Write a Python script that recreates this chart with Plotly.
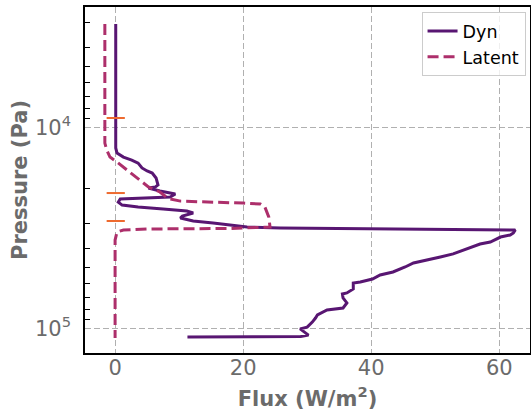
import plotly.graph_objects as go

# Dyn flux profile (W/m^2) vs pressure (Pa)
dyn_p = [3055, 12640, 13400, 14030, 14520, 15040, 15900, 16460, 16840, 17830,
         19320, 19760, 19990, 20700, 21430, 22190, 22700, 23500, 24330, 24890,
         25440, 26020, 26620, 27560, 28200, 29190, 29860, 30560, 31270, 31620,
         31990, 32360, 33500, 34290, 35080, 37150, 38000, 40190, 42560, 44060,
         46130, 47210, 49430, 52340, 54170, 56720, 58720, 59400, 63560, 66540,
         67310, 70470, 74620, 79060, 80890, 85650, 88710, 92910, 98410, 100500,
         107900, 109600, 110000, 110300]
dyn_flux = [0.1, 0.1, 0.3, 1.3, 2.6, 3.6, 4.2, 5.0, 5.8, 6.4,
            6.7, 6.3, 5.2, 7.0, 9.4, 8.6, 0.8, 0.5, 1.1, 3.6,
            7.5, 11.2, 12.2, 10.5, 10.2, 12.2, 15.3, 18.4, 20.6, 25.8,
            45.0, 62.5, 62.2, 61.7, 60.2, 58.6, 57.0, 55.0, 52.8, 50.8,
            48.1, 46.6, 45.3, 43.4, 41.4, 40.2, 38.3, 37.2, 37.2, 36.2,
            35.5, 35.6, 36.2, 35.6, 33.1, 31.6, 31.3, 30.8, 30.0, 28.9,
            30.2, 29.0, 21.6, 11.3]

# Latent flux profile
lat_p = [3055, 11950, 12950, 14030, 14850, 15730, 17230, 18670, 19760, 20940,
         22190, 22700, 23240, 23780, 24040, 24890, 27880, 31270, 31800, 31990,
         32360, 33110, 36300, 111400]
lat_flux = [-1.6, -1.6, -1.3, -0.8, 0.3, 1.3, 2.8, 4.2, 5.2, 7.0,
            8.0, 8.6, 10.2, 20.0, 22.7, 23.4, 24.0, 24.2, 18.0, 5.0,
            1.3, 0.3, 0.0, 0.0]

# Orange level markers
mark_p = [8970, 21190, 29190]
mark_flux = [0.1, 0.1, 0.1]

x_ticks = [0, 20, 40, 60]
y_ticks = [1e4, 1e5]
y_ticktext = ["10<sup>4</sup>", "10<sup>5</sup>"]
y_minor = [3000, 4000, 5000, 6000, 7000, 8000, 9000,
           20000, 30000, 40000, 50000, 60000, 70000, 80000, 90000]

gray = "#6b6b6b"

fig = go.Figure()
fig.add_trace(go.Scatter(x=dyn_flux, y=dyn_p, mode="lines", name="Dyn",
                         line=dict(color="#581672", width=3)))
fig.add_trace(go.Scatter(x=lat_flux, y=lat_p, mode="lines", name="Latent",
                         line=dict(color="#ad2f6b", width=3, dash="11px,5px")))
fig.add_trace(go.Scatter(x=mark_flux, y=mark_p, mode="markers", showlegend=False,
                         marker=dict(symbol="line-ew", size=13,
                                     line=dict(color="#ee6a2f", width=2))))

fig.update_layout(
    width=531, height=415,
    margin=dict(l=85, r=1, t=7, b=62, autoexpand=False),
    paper_bgcolor="white", plot_bgcolor="white",
    font=dict(family="DejaVu Sans", size=20, color=gray),
    legend=dict(x=0.99, y=0.985, xanchor="right", yanchor="top",
                bgcolor="rgba(255,255,255,0.8)", bordercolor="#cccccc",
                borderwidth=1, font=dict(size=17.5, color="black"),
                tracegroupgap=2),
)
fig.update_xaxes(
    range=[-4.7, 64.8], tickvals=x_ticks, ticks="", showgrid=True,
    gridcolor="#b0b0b0", griddash="6px,3px", gridwidth=1.2, zeroline=False,
    showline=True, mirror=True, linecolor="black", linewidth=1.5,
    automargin=False,
    ticklabelstandoff=-5, tickfont=dict(size=21, color=gray),
    title=dict(text="<b>Flux (W/m<sup>2</sup>)</b>", font=dict(size=21, color=gray),
               standoff=12),
)
fig.update_yaxes(
    type="log", range=[5.122, 3.4005], tickvals=y_ticks, ticktext=y_ticktext,
    ticks="", showgrid=True, gridcolor="#b0b0b0", griddash="6px,3px", gridwidth=1.2,
    zeroline=False, showline=True, mirror=True, linecolor="black", linewidth=1.5,
    automargin=False,
    ticklabelstandoff=8, tickfont=dict(size=21, color=gray),
    minor=dict(tickvals=y_minor, ticks="inside", ticklen=5, tickcolor="black",
               tickwidth=1, showgrid=False),
    title=dict(text="<b>Pressure (Pa)</b>", font=dict(size=21, color=gray),
               standoff=2),
)

fig.write_html("out.html", config={"displayModeBar": False},
               post_script="document.body.style.margin='0';document.body.style.overflow='hidden';")
